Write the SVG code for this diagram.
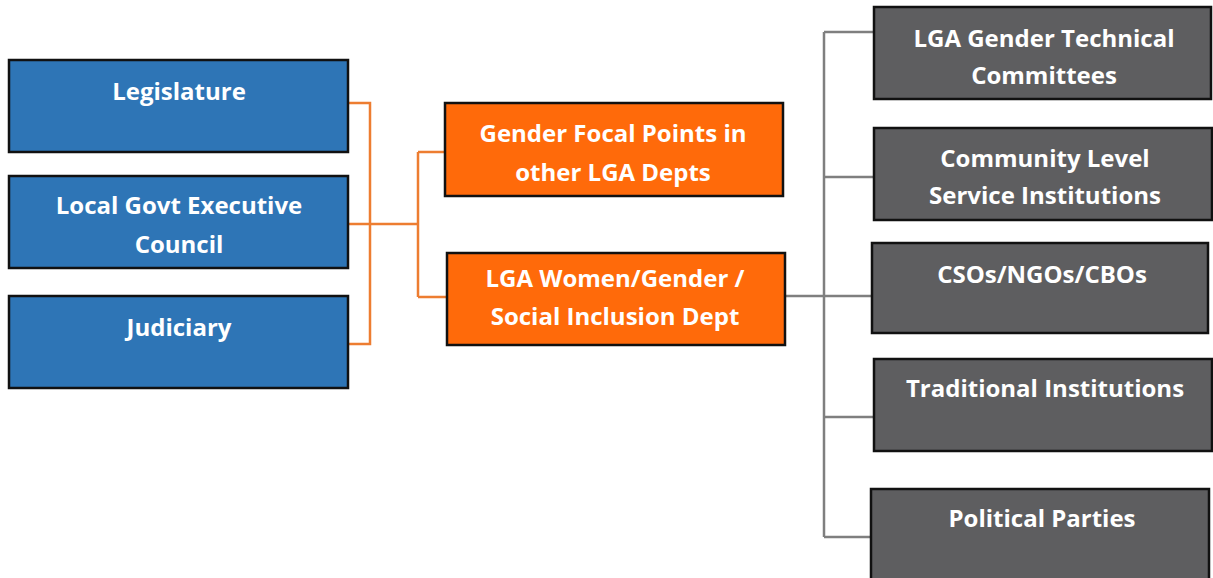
<svg xmlns="http://www.w3.org/2000/svg" width="1213" height="578" viewBox="0 0 1213 578">
<style>
.box{stroke:#111;stroke-width:2.5}
.blue{fill:#2E75B6}
.orange{fill:#FF6A0A}
.gray{fill:#5E5E60}
text{font-family:"Open Sans","DejaVu Sans",sans-serif;font-weight:bold;font-size:24px;fill:#fff;text-anchor:middle}
.oc{stroke:#ED7D31;stroke-width:2.5;fill:none}
.gc{stroke:#7F7F7F;stroke-width:2.5;fill:none}
</style>
<rect width="1213" height="578" fill="#fff"/>
<g id="connectors">
<path class="oc" d="M348 103H370V344H348M348 224H418M418 152V297M418 152H445M418 297H447"/>
<path class="gc" d="M785 296H872M824 32V537M824 32H874M824 177H874M824 417H874M824 537H871"/>
</g>
<g id="legislature"><rect class="box blue" x="9" y="60" width="339" height="92"/><text x="179" y="100">Legislature</text></g>
<g id="executive"><rect class="box blue" x="9" y="176" width="339" height="92"/><text x="179" y="214">Local Govt Executive</text><text x="179" y="253">Council</text></g>
<g id="judiciary"><rect class="box blue" x="9" y="296" width="339" height="92"/><text x="179" y="336">Judiciary</text></g>
<g id="focal"><rect class="box orange" x="445" y="103" width="338" height="93"/><text x="613" y="142">Gender Focal Points in</text><text x="613" y="181">other LGA Depts</text></g>
<g id="womendept"><rect class="box orange" x="447" y="253" width="338" height="92"/><text x="615" y="287">LGA Women/Gender /</text><text x="615" y="325">Social Inclusion Dept</text></g>
<g id="technical"><rect class="box gray" x="874" y="7" width="337" height="92"/><text x="1044" y="47">LGA Gender Technical</text><text x="1044" y="84">Committees</text></g>
<g id="community"><rect class="box gray" x="874" y="128" width="338" height="92"/><text x="1045" y="167">Community Level</text><text x="1045" y="204">Service Institutions</text></g>
<g id="csos"><rect class="box gray" x="872" y="243" width="336" height="90"/><text x="1042" y="283">CSOs/NGOs/CBOs</text></g>
<g id="traditional"><rect class="box gray" x="874" y="359" width="338" height="92"/><text x="1045" y="397">Traditional Institutions</text></g>
<g id="parties"><rect class="box gray" x="871" y="489" width="338" height="92"/><text x="1042" y="527">Political Parties</text></g>
</svg>
